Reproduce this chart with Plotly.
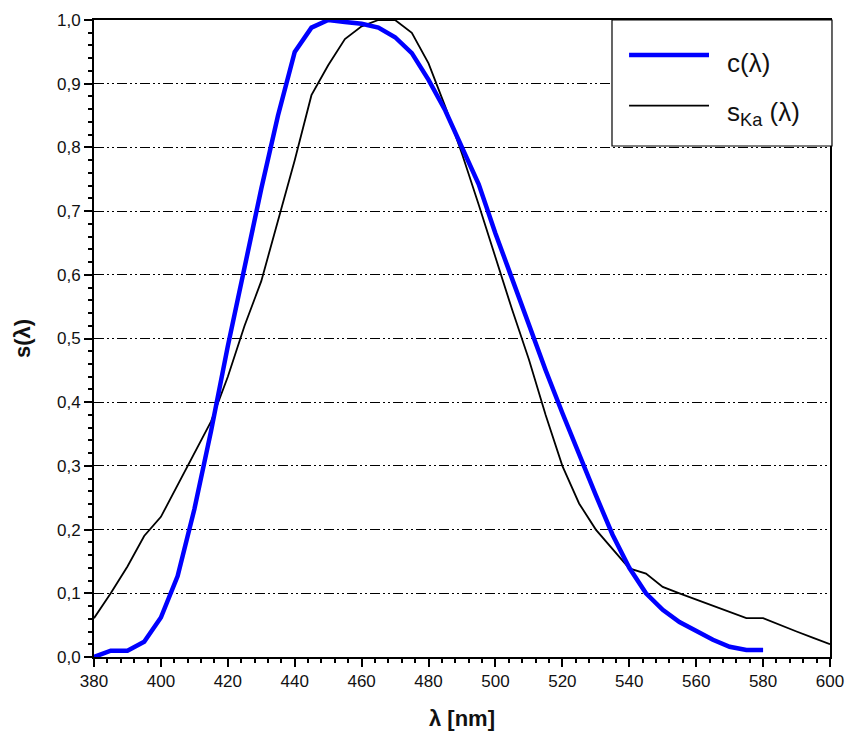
import plotly.graph_objects as go

# wavelengths (nm)
wl_c = [380, 385, 390, 395, 400, 405, 410, 415, 420, 425, 430, 435, 440, 445, 450,
        455, 460, 465, 470, 475, 480, 485, 490, 495, 500, 505, 510, 515, 520, 525,
        530, 535, 540, 545, 550, 555, 560, 565, 570, 575, 580]
c_vals = [0.0, 0.01, 0.01, 0.024, 0.062, 0.127, 0.232, 0.355, 0.488, 0.615, 0.735, 0.85,
          0.95, 0.988, 1.0, 0.997, 0.994, 0.988, 0.973, 0.948, 0.906, 0.858, 0.80, 0.742,
          0.665, 0.592, 0.52, 0.45, 0.383, 0.317, 0.254, 0.192, 0.14, 0.10, 0.074, 0.055,
          0.04, 0.027, 0.016, 0.011, 0.011]

wl_s = [380, 385, 390, 395, 400, 405, 410, 415, 420, 425, 430, 435, 440, 445, 450,
        455, 460, 465, 470, 475, 480, 485, 490, 495, 500, 505, 510, 515, 520, 525,
        530, 535, 540, 545, 550, 555, 560, 565, 570, 575, 580, 585, 590, 595, 600]
s_vals = [0.061, 0.10, 0.142, 0.19, 0.22, 0.27, 0.32, 0.37, 0.44, 0.52, 0.59, 0.685,
          0.78, 0.882, 0.929, 0.97, 0.99, 1.0, 1.0, 0.98, 0.932, 0.864, 0.79, 0.71,
          0.628, 0.545, 0.467, 0.38, 0.30, 0.241, 0.20, 0.17, 0.139, 0.131, 0.11, 0.10,
          0.09, 0.08, 0.07, 0.061, 0.061, 0.05, 0.04, 0.03, 0.02]

legend_labels = ["c(λ)", "s<sub>Ka</sub> (λ)"]

FONT = "Liberation Sans, Arial, sans-serif"

fig = go.Figure()
fig.add_trace(go.Scatter(x=wl_s, y=s_vals, mode="lines", name=legend_labels[1],
                         line=dict(color="black", width=1.8), showlegend=False))
fig.add_trace(go.Scatter(x=wl_c, y=c_vals, mode="lines", name=legend_labels[0],
                         line=dict(color="#0000ff", width=4.5), showlegend=False))

# manual legend box
fig.add_shape(type="rect", xref="paper", yref="paper", x0=0.7038, x1=1.0027, y0=0.8022, y1=1.0,
              line=dict(color="black", width=1.2), fillcolor="white", layer="above")
fig.add_shape(type="line", xref="paper", yref="paper", x0=0.727, x1=0.8356, y0=0.945, y1=0.945,
              line=dict(color="#0000ff", width=4.5), layer="above")
fig.add_shape(type="line", xref="paper", yref="paper", x0=0.727, x1=0.8356, y0=0.8655, y1=0.8655,
              line=dict(color="black", width=1.8), layer="above")
fig.add_annotation(xref="paper", yref="paper", x=0.858, y=0.9325, text=legend_labels[0],
                   showarrow=False, xanchor="left", yanchor="middle",
                   font=dict(family=FONT, size=26, color="#111"))
fig.add_annotation(xref="paper", yref="paper", x=0.858, y=0.853, text=legend_labels[1],
                   showarrow=False, xanchor="left", yanchor="middle",
                   font=dict(family=FONT, size=26, color="#111"))

fig.update_layout(
    width=846, height=738,
    margin=dict(l=94, r=16, t=20, b=81),
    plot_bgcolor="white", paper_bgcolor="white",
    separators=",.",
    font=dict(family=FONT, size=17, color="#111"),
    showlegend=False,
)
fig.update_xaxes(
    range=[380, 600], tick0=380, dtick=20, ticks="outside", ticklen=8, tickwidth=2,
    tickcolor="black", showline=True, linecolor="black", linewidth=2, mirror=True,
    showgrid=False, zeroline=False, automargin=False,
    tickfont=dict(family=FONT, size=17, color="#111"),
    minor=dict(dtick=4, tick0=380, ticks="outside", ticklen=4, tickwidth=1.5, tickcolor="black", showgrid=False),
    title=dict(text="<b>λ [nm]</b>", font=dict(family=FONT, size=22, color="#111"), standoff=20),
)
fig.update_yaxes(
    range=[0, 1], tick0=0, dtick=0.1, tickformat=".1f", ticks="outside", ticklen=8, tickwidth=2,
    tickcolor="black", showline=True, linecolor="black", linewidth=2, mirror=True,
    showgrid=True, gridcolor="black", gridwidth=1, griddash="10px,3px,2px,3px,2px,3px",
    zeroline=False, automargin=False,
    tickfont=dict(family=FONT, size=17, color="#111"),
    minor=dict(dtick=0.02, tick0=0, ticks="outside", ticklen=4, tickwidth=1.5, tickcolor="black", showgrid=False),
    title=dict(text="<b>s(λ)</b>", font=dict(family=FONT, size=22, color="#111"), standoff=20),
)

fig.write_html("out.html", config={"displayModeBar": False},
               post_script="document.body.style.margin='0';")
